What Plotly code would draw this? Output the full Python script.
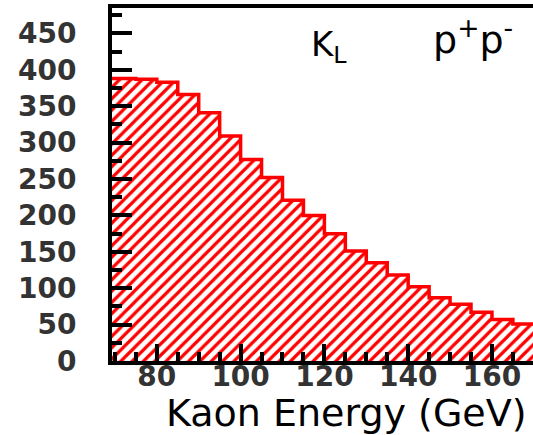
import plotly.graph_objects as go

# Histogram data (5 GeV bins, left edges)
bin_left = [65, 70, 75, 80, 85, 90, 95, 100, 105, 110, 115, 120, 125, 130, 135,
            140, 145, 150, 155, 160, 165]
counts = [388, 388, 387, 383, 366, 341, 309, 277, 252, 221, 200, 175, 151, 135,
          118, 102, 87, 78, 67, 57, 51]
bin_width = 5

x_ticks = [80, 100, 120, 140, 160]
y_ticks = [0, 50, 100, 150, 200, 250, 300, 350, 400, 450]

centers = [b + bin_width / 2 for b in bin_left]
edges = bin_left + [bin_left[-1] + bin_width]
step_y = counts + [counts[-1]]

RED = "#ff0000"
FONT = "DejaVu Sans"

fig = go.Figure()
fig.add_trace(go.Bar(
    x=centers, y=counts, width=bin_width,
    marker=dict(color="white", line=dict(width=0),
                pattern=dict(shape="/", fgcolor=RED, bgcolor="white",
                             size=8, solidity=0.4, fillmode="replace")),
    hoverinfo="skip", showlegend=False,
))
fig.add_trace(go.Scatter(
    x=edges, y=step_y, mode="lines", line=dict(color=RED, width=3.5, shape="hv"),
    hoverinfo="skip", showlegend=False,
))

fig.update_layout(
    width=533, height=435,
    margin=dict(l=112, r=0, t=8, b=74),
    plot_bgcolor="white", paper_bgcolor="white",
    bargap=0,
    font=dict(family=FONT, color="black"),
    xaxis=dict(
        range=[69.3, 169.8], showgrid=False, zeroline=False,
        showline=True, linewidth=4, linecolor="black", mirror=True,
        tickmode="array", tickvals=x_ticks, ticktext=[str(v) for v in x_ticks],
        ticks="inside", ticklen=17, tickwidth=4, tickcolor="black",
        minor=dict(dtick=5, tick0=0, ticks="inside", ticklen=9, tickwidth=4, tickcolor="black", showgrid=False),
        tickfont=dict(family=FONT, size=28, color="#333", weight="bold"),
        ticklabelstandoff=-13,
    ),
    yaxis=dict(
        range=[0, 485], showgrid=False, zeroline=False,
        showline=True, linewidth=4, linecolor="black", mirror=False,
        tickmode="array", tickvals=y_ticks, ticktext=[str(v) for v in y_ticks],
        ticks="inside", ticklen=20, tickwidth=4, tickcolor="black",
        minor=dict(dtick=25, tick0=0, ticks="inside", ticklen=10, tickwidth=4, tickcolor="black", showgrid=False),
        tickfont=dict(family=FONT, size=28, color="#333", weight="bold"),
        ticklabelstandoff=26,
    ),
)

fig.add_annotation(text="Kaon Energy (GeV)", xref="paper", yref="paper",
                   x=(164 - 112) / 421, y=-(413 - 361) / 353.5,
                   xanchor="left", yanchor="middle", showarrow=False,
                   font=dict(family=FONT, size=38, color="black"))
fig.add_annotation(text="K<sub>L</sub>", xref="paper", yref="paper",
                   x=(309 - 112) / 421, y=(361 - 46) / 353.5,
                   xanchor="left", yanchor="middle", showarrow=False,
                   font=dict(family=FONT, size=34, color="black"))
fig.add_annotation(text="p<sup>+</sup>p<sup>-</sup>", xref="paper", yref="paper",
                   x=(431 - 112) / 421, y=(361 - 37) / 353.5,
                   xanchor="left", yanchor="middle", showarrow=False,
                   font=dict(family=FONT, size=38, color="black"))

fig.write_html("out.html")
